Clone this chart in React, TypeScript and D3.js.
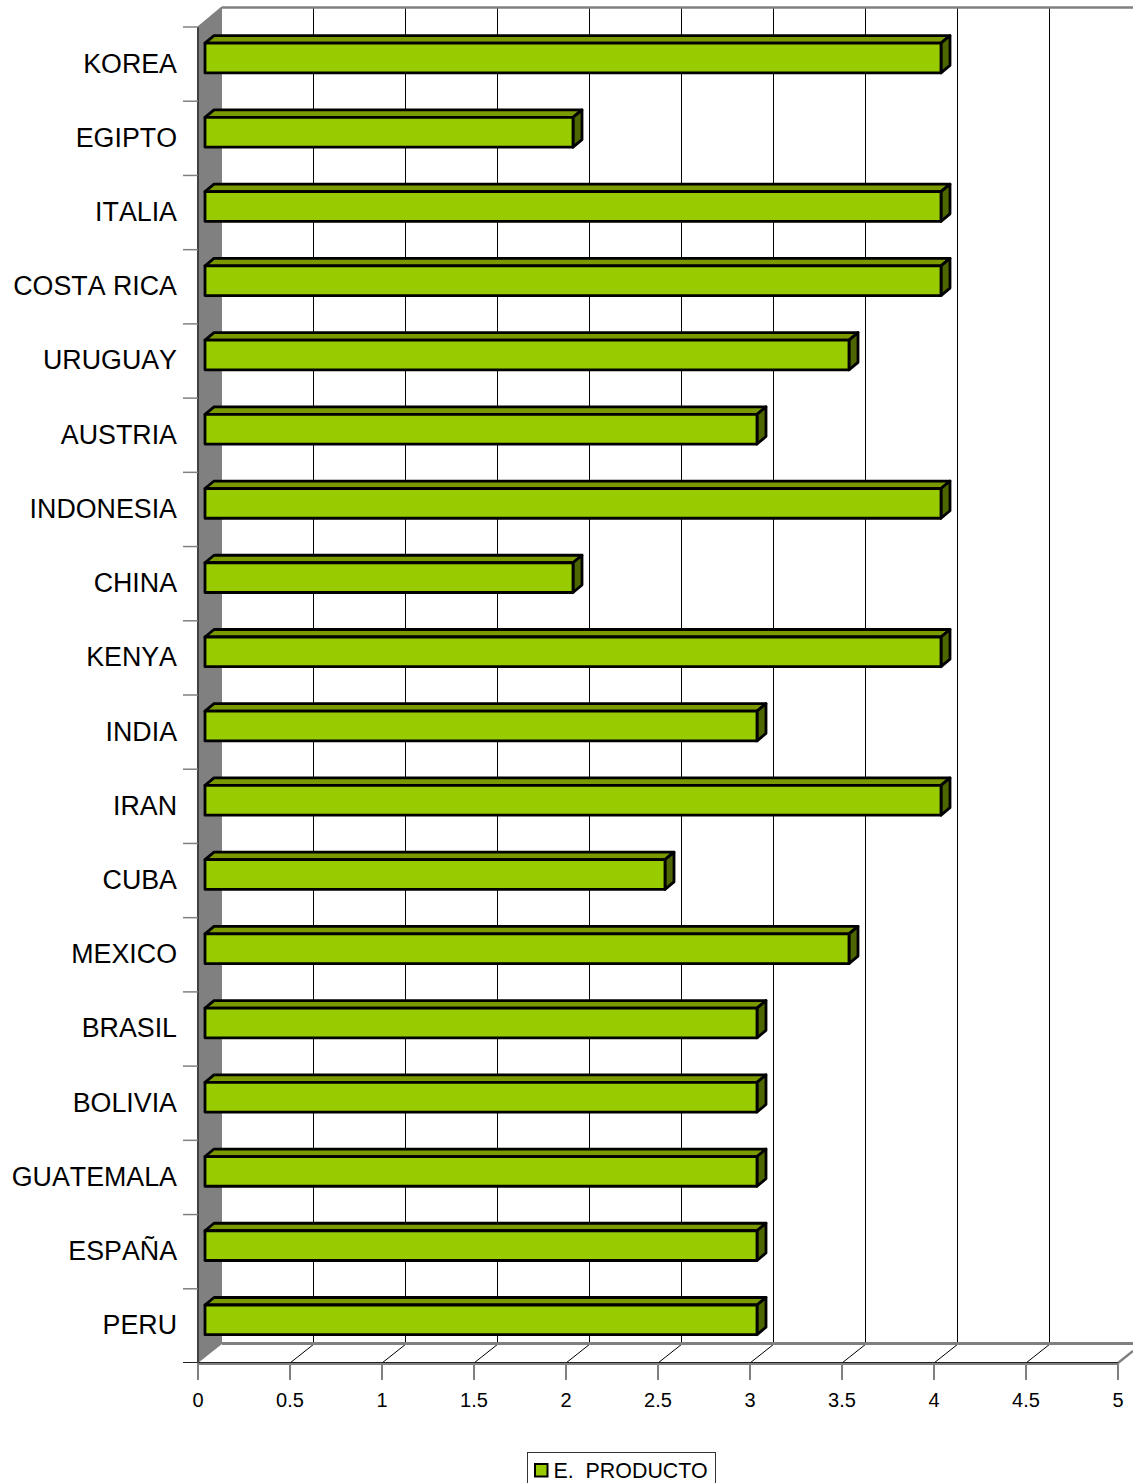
import React from "react";
import * as d3 from "d3";

const categories = ["KOREA","EGIPTO","ITALIA","COSTA RICA","URUGUAY","AUSTRIA","INDONESIA","CHINA","KENYA","INDIA","IRAN","CUBA","MEXICO","BRASIL","BOLIVIA","GUATEMALA","ESPAÑA","PERU"];
const values = [4,2,4,4,3.5,3,4,2,4,3,4,2.5,3.5,3,3,3,3,3];
const xTicks = [0,0.5,1,1.5,2,2.5,3,3.5,4,4.5,5];
const legendLabel = "E.  PRODUCTO";

const W = 1133, H = 1483;
const font = "'Liberation Sans', Arial, sans-serif";
const x = d3.scaleLinear().domain([0,5]).range([198,1118]);
const y = d3.scaleBand().domain(categories).range([27,1363]);
const DX = 24;
const GREY = "#808080";

export default function App() {
  const band = y.bandwidth();
  return (
    <svg width={W} height={H} viewBox={`0 0 ${W} ${H}`} style={{position:"absolute",left:0,top:0,display:"block",background:"#fff"}}>
      {/* left wall */}
      <polygon points={`198,27 222,7 222,1344 198,1363`} fill={GREY} />
      {/* grid */}
      {xTicks.map(t => (
        <g key={t}>
          {t>0 && <line x1={Math.round(x(t))+DX-0.5} x2={Math.round(x(t))+DX-0.5} y1={8} y2={1344} stroke="#000" strokeWidth={1} shapeRendering="crispEdges"/>}
          {t>0 && t<5 && <line x1={x(t)} y1={1363} x2={x(t)+DX} y2={1344} stroke="#000" strokeWidth={1}/>}
        </g>
      ))}
      <line x1={222} x2={W} y1={7.5} y2={7.5} stroke={GREY} strokeWidth={2.5}/>
      <line x1={222} x2={W} y1={1343.5} y2={1343.5} stroke={GREY} strokeWidth={3}/>
      <line x1={1118} y1={1363} x2={1133} y2={1351} stroke={GREY} strokeWidth={2.5}/>
      <line x1={198} x2={1118} y1={1364} y2={1364} stroke={GREY} strokeWidth={2}/>
      <line x1={183} x2={1118} y1={1362.5} y2={1362.5} stroke="#222" strokeWidth={1}/>
      <line x1={198} x2={198} y1={27} y2={1363} stroke="#404040" strokeWidth={2}/>
      <line x1={198} y1={27} x2={222} y2={7} stroke={GREY} strokeWidth={1.5}/>
      {/* category ticks */}
      {categories.map(c => (
        <line key={c} x1={183} x2={198} y1={(y(c) as number)} y2={(y(c) as number)} stroke={GREY} strokeWidth={1.5}/>
      ))}
      {/* x ticks */}
      {xTicks.map(t => (
        <g key={t}>
          <line x1={x(t)} x2={x(t)} y1={1363} y2={1380} stroke={GREY} strokeWidth={2}/>
          <text x={x(t)} y={1406.5} textAnchor="middle" fontFamily={font} fontSize={20} fill="#000">{t}</text>
        </g>
      ))}
      {/* bars */}
      {categories.map((c,i) => {
        const y0 = (y(c) as number) + 16.2;
        const h = band - 44.5;
        const x0 = 205;
        const x1 = x(values[i]) + 7;
        const dx = 9, dy = 7.5;
        return (
          <g key={c} stroke="#000" strokeWidth={2.8} strokeLinejoin="round">
            <polygon points={`${x0},${y0} ${x0+dx},${y0-dy} ${x1+dx},${y0-dy} ${x1},${y0}`} fill="#7a9a00"/>
            <polygon points={`${x1},${y0} ${x1+dx},${y0-dy} ${x1+dx},${y0+h-dy} ${x1},${y0+h}`} fill="#4d6600"/>
            <rect x={x0} y={y0} width={x1-x0} height={h} fill="#99cc00"/>
          </g>
        );
      })}
      {/* category labels */}
      {categories.map(c => (
        <text key={c} x={177} y={(y(c) as number)+45.5} textAnchor="end" fontFamily={font} fontSize={26.8} fill="#000" style={{fontKerning:"none"}}>{c}</text>
      ))}
      {/* legend */}
      <rect x={527.5} y={1452.5} width={188} height={40} fill="#fff" stroke="#333" strokeWidth={1}/>
      <rect x={535} y={1464} width={12.5} height={12.5} fill="#99cc00" stroke="#000" strokeWidth={2}/>
      <text x={553.5} y={1478} fontFamily={font} fontSize={21.4} fill="#000" style={{whiteSpace:"pre"}}>{legendLabel}</text>
    </svg>
  );
}
